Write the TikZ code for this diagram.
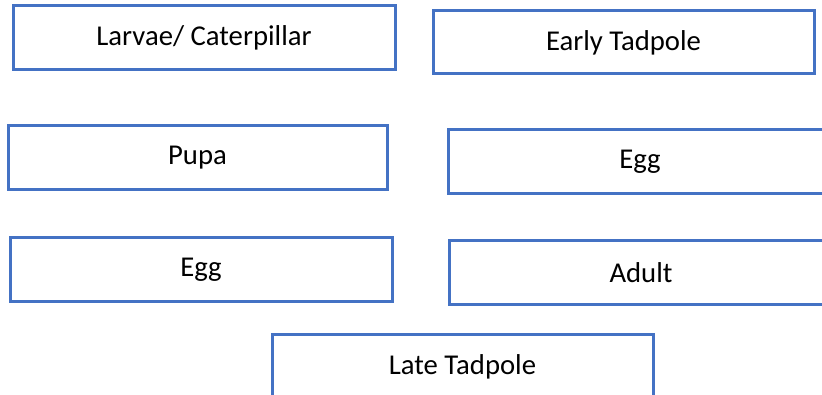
\documentclass[tikz,border=0pt]{standalone}
\usepackage{fontspec}
\setmainfont{Carlito}
\definecolor{boxblue}{HTML}{4472C4}
\tikzset{
  stagebox/.style={draw=boxblue, line width=3pt, fill=white, rectangle,
    inner sep=0pt, font=\fontsize{28.7}{34}\selectfont, text=black},
}
\begin{document}
\begin{tikzpicture}[x=1pt,y=-1pt]
\useasboundingbox (0,0) rectangle (822,395);
\clip (0,0) rectangle (822,395);
\node[stagebox, minimum width=382pt, minimum height=64pt] (larvae) at (204,38) {Larvae/ Caterpillar};
\node[stagebox, minimum width=381pt, minimum height=63pt] (early) at (623.5,42.5) {Early Tadpole};
\node[stagebox, minimum width=379pt, minimum height=64pt] (pupa) at (197.5,158) {Pupa};
\node[stagebox, minimum width=384pt, minimum height=64pt] (eggr) at (640,162) {Egg};
\node[stagebox, minimum width=382pt, minimum height=64pt] (eggl) at (201,270) {Egg};
\node[stagebox, minimum width=384pt, minimum height=64pt] (adult) at (641,273) {Adult};
\node[stagebox, minimum width=381pt, minimum height=64pt] (late) at (462.5,367) {Late Tadpole};
\end{tikzpicture}
\end{document}
